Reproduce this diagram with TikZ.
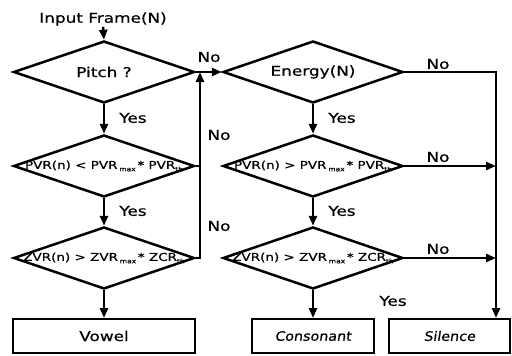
\documentclass[tikz,border=0pt]{standalone}
\usepackage{fontspec}
\setmainfont{DejaVu Sans}[FakeStretch=1.25,FakeBold=0.6]
\newfontfamily\slantfont{DejaVu Sans}[FakeStretch=1.1,FakeSlant=0.15,FakeBold=0.6]
\usetikzlibrary{shapes.geometric,arrows.meta}
\newcommand\sbs[1]{\raisebox{-0.4ex}{\fontsize{6}{6}\selectfont #1}}
\begin{document}
\begin{tikzpicture}[x=1pt,y=-1pt,
  line width=2.5pt,
  flow/.style={-{Triangle[length=10pt,width=8pt]}},
  dia/.style={draw,shape=diamond,inner sep=0pt,minimum width=181pt,minimum height=62pt},
  cond/.style={font=\fontsize{10.8}{12}\selectfont},
  big/.style={font=\fontsize{13.5}{15}\selectfont},
  outbox/.style={draw,line width=2pt,minimum height=34pt,inner sep=0pt},
  lab/.style={font=\fontsize{13.5}{15}\selectfont,inner sep=0pt}]
\useasboundingbox (0,0) rectangle (512,356);
% nodes
\node[big,inner sep=0pt] (in) at (103,19) {Input Frame(N)};
\node[dia,label={[big]center:Pitch ?}] (d1) at (104,72) {};
\node[dia,label={[cond]center:PVR(n) < PVR\,\sbs{max}\,* PVR\sbs{th}}] (d2) at (104,166) {};
\node[dia,label={[cond]center:ZVR(n) > ZVR\,\sbs{max}\,* ZCR\sbs{th}}] (d3) at (104,258) {};
\node[outbox,minimum width=182pt,big] (vowel) at (104,336) {Vowel};
\node[dia,minimum width=180pt,label={[big]center:Energy(N)}] (e1) at (313,72) {};
\node[dia,minimum width=180pt,label={[cond]center:PVR(n) > PVR\,\sbs{max}\,* PVR\sbs{th}}] (e2) at (313,166) {};
\node[dia,minimum width=180pt,label={[cond]center:ZVR(n) > ZVR\,\sbs{max}\,* ZCR\sbs{th}}] (e3) at (313,258) {};
\node[outbox,minimum width=122pt,font=\slantfont\fontsize{13}{15}\selectfont] (cons) at (313,336) {Consonant};
\node[outbox,minimum width=121pt,font=\slantfont\fontsize{13}{15}\selectfont] (sil) at (449.5,336) {Silence};
% junction coordinates
\coordinate (j1) at (200,72);
\coordinate (j2) at (200,166);
\coordinate (j3) at (200,258);
\coordinate (r1) at (496,72);
\coordinate (r2) at (496,166);
\coordinate (r3) at (496,258);
% connectors
\draw[flow] (in.south) -- (d1.north);
\draw[flow] (d1.south) -- (d2.north);
\draw[flow] (d2.south) -- (d3.north);
\draw[flow] (d3.south) -- (vowel.north);
\draw (d2.east) -- (j2);
\draw[flow] (d3.east) -- (j3) -- (j1);
\draw[flow] (d1.east) -- (e1.west);
\draw[flow] (e1.south) -- (e2.north);
\draw[flow] (e2.south) -- (e3.north);
\draw[flow] (e3.south) -- (cons.north);
\draw[flow] (e1.east) -- (r1) -- (r1 |- sil.north);
\draw[flow] (e2.east) -- (r2);
\draw[flow] (e3.east) -- (r3);
% labels
\node[lab] (l1) at (133,118) {Yes};
\node[lab] (l2) at (133,211) {Yes};
\node[lab] (l3) at (342,118) {Yes};
\node[lab] (l4) at (342,211) {Yes};
\node[lab] (l5) at (393,301) {Yes};
\node[lab] (n1) at (209,57) {No};
\node[lab] (n2) at (219,135) {No};
\node[lab] (n3) at (219,226) {No};
\node[lab] (n4) at (438,64) {No};
\node[lab] (n5) at (438,157) {No};
\node[lab] (n6) at (438,249) {No};
\end{tikzpicture}
\end{document}
